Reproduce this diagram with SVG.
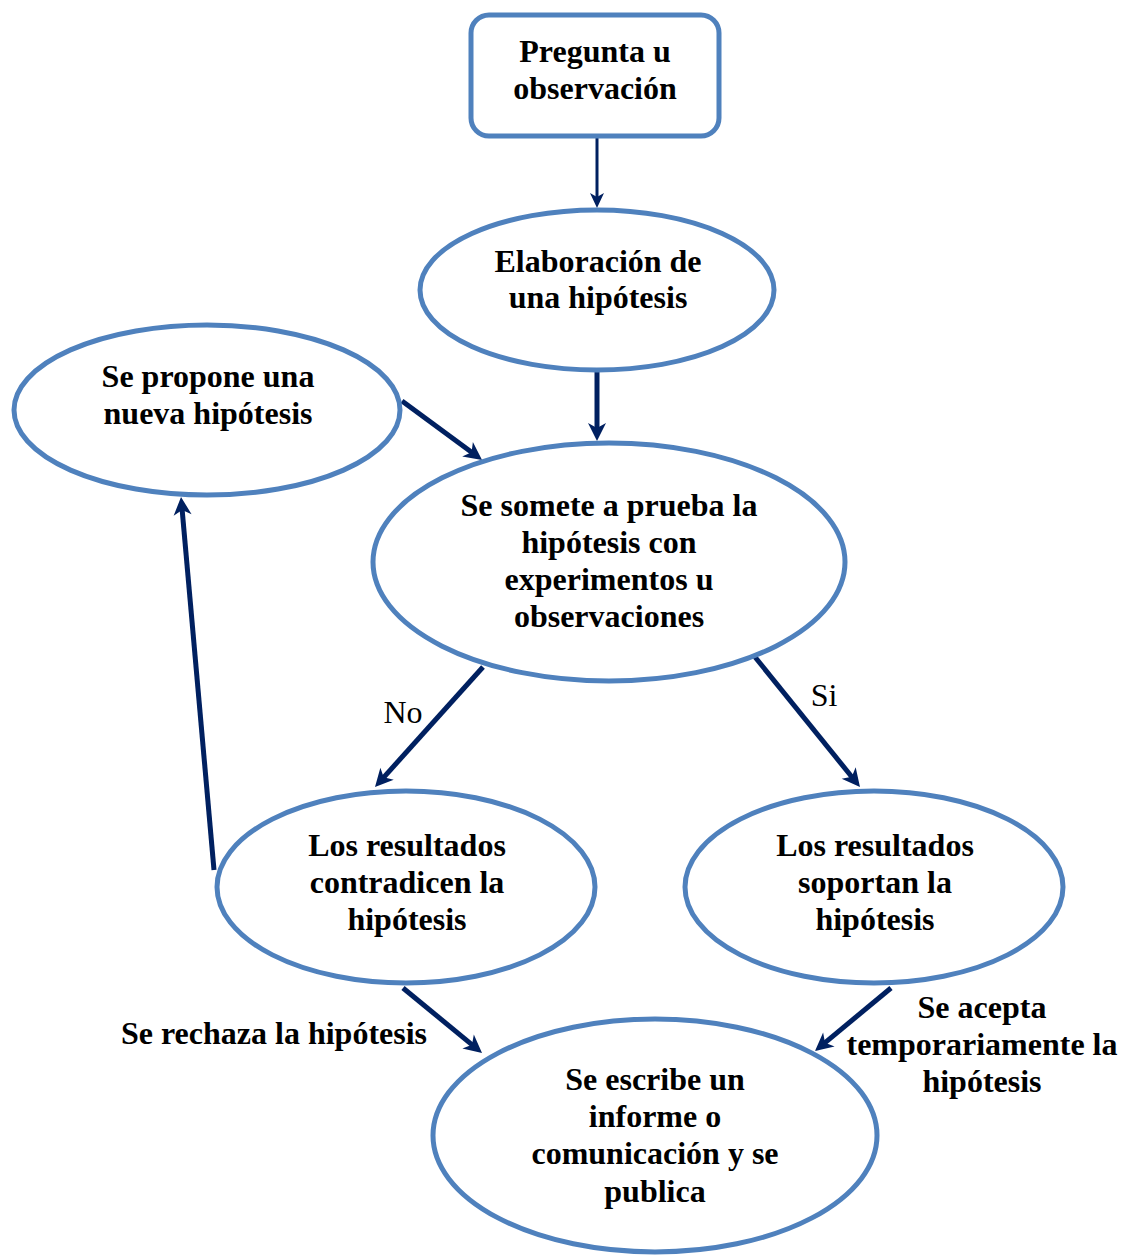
<svg xmlns="http://www.w3.org/2000/svg" width="1123" height="1257" viewBox="0 0 1123 1257">
<style>
.node{fill:#fff;stroke:#4F81BD;stroke-width:5}
.t{font-family:"Liberation Serif","Times New Roman",serif;font-size:32px;font-weight:bold;fill:#000;text-anchor:middle}
.l{font-family:"Liberation Serif","Times New Roman",serif;font-size:32px;fill:#000;text-anchor:middle}
.c{fill:none;stroke:#002060;stroke-width:5}
.c2{fill:none;stroke:#002060;stroke-width:3}
</style>
<defs>
<marker id="ah" viewBox="-10 -10 22 20" refX="0" refY="0" markerWidth="22" markerHeight="20" markerUnits="userSpaceOnUse" orient="auto">
<path d="M10,0 L-8,-9 L-3,0 L-8,9 Z" fill="#002060"/>
</marker>
<marker id="ahs" viewBox="-10 -8 20 16" refX="0" refY="0" markerWidth="20" markerHeight="16" markerUnits="userSpaceOnUse" orient="auto">
<path d="M8,0 L-7,-7 L-3,0 L-7,7 Z" fill="#002060"/>
</marker>
</defs>
<rect width="1123" height="1257" fill="#fff"/>
<g id="connectors">
<line class="c2" x1="597" y1="138" x2="597" y2="200" marker-end="url(#ahs)"/>
<line class="c" x1="597" y1="372" x2="597" y2="431" marker-end="url(#ah)"/>
<line class="c" x1="402" y1="401" x2="474" y2="454" marker-end="url(#ah)"/>
<line class="c" x1="483" y1="667" x2="381.7" y2="779.6" marker-end="url(#ah)"/>
<line class="c" x1="755" y1="657" x2="853.7" y2="779.2" marker-end="url(#ah)"/>
<line class="c" x1="214" y1="870" x2="181.9" y2="507" marker-end="url(#ah)"/>
<line class="c" x1="403" y1="988" x2="474.3" y2="1046.6" marker-end="url(#ah)"/>
<line class="c" x1="891" y1="988" x2="822.7" y2="1044.6" marker-end="url(#ah)"/>
<text class="l" x="403" y="723">No</text>
<text class="l" x="824" y="706">Si</text>
<text class="t" x="274" y="1044">Se rechaza la hipótesis</text>
<text class="t" x="982" y="1018">Se acepta</text>
<text class="t" x="982" y="1055">temporariamente la</text>
<text class="t" x="982" y="1092">hipótesis</text>
</g>
<g id="pregunta">
<rect class="node" x="471" y="15" width="248" height="121" rx="18"/>
<text class="t" x="595" y="62">Pregunta u</text>
<text class="t" x="595" y="99">observación</text>
</g>
<g id="elaboracion">
<ellipse class="node" cx="597" cy="290" rx="177" ry="80"/>
<text class="t" x="598" y="272">Elaboración de</text>
<text class="t" x="598" y="308">una hipótesis</text>
</g>
<g id="propone">
<ellipse class="node" cx="207" cy="410" rx="193" ry="85"/>
<text class="t" x="208" y="387">Se propone una</text>
<text class="t" x="208" y="424">nueva hipótesis</text>
</g>
<g id="somete">
<ellipse class="node" cx="609" cy="562" rx="236" ry="119"/>
<text class="t" x="609" y="516">Se somete a prueba la</text>
<text class="t" x="609" y="553">hipótesis con</text>
<text class="t" x="609" y="590">experimentos u</text>
<text class="t" x="609" y="627">observaciones</text>
</g>
<g id="contradicen">
<ellipse class="node" cx="406" cy="887" rx="189" ry="96"/>
<text class="t" x="407" y="856">Los resultados</text>
<text class="t" x="407" y="893">contradicen la</text>
<text class="t" x="407" y="930">hipótesis</text>
</g>
<g id="soportan">
<ellipse class="node" cx="874" cy="887" rx="189" ry="96"/>
<text class="t" x="875" y="856">Los resultados</text>
<text class="t" x="875" y="893">soportan la</text>
<text class="t" x="875" y="930">hipótesis</text>
</g>
<g id="escribe">
<ellipse class="node" cx="655" cy="1135.5" rx="222" ry="116.5"/>
<text class="t" x="655" y="1090">Se escribe un</text>
<text class="t" x="655" y="1127">informe o</text>
<text class="t" x="655" y="1164">comunicación y se</text>
<text class="t" x="655" y="1202">publica</text>
</g>
</svg>
